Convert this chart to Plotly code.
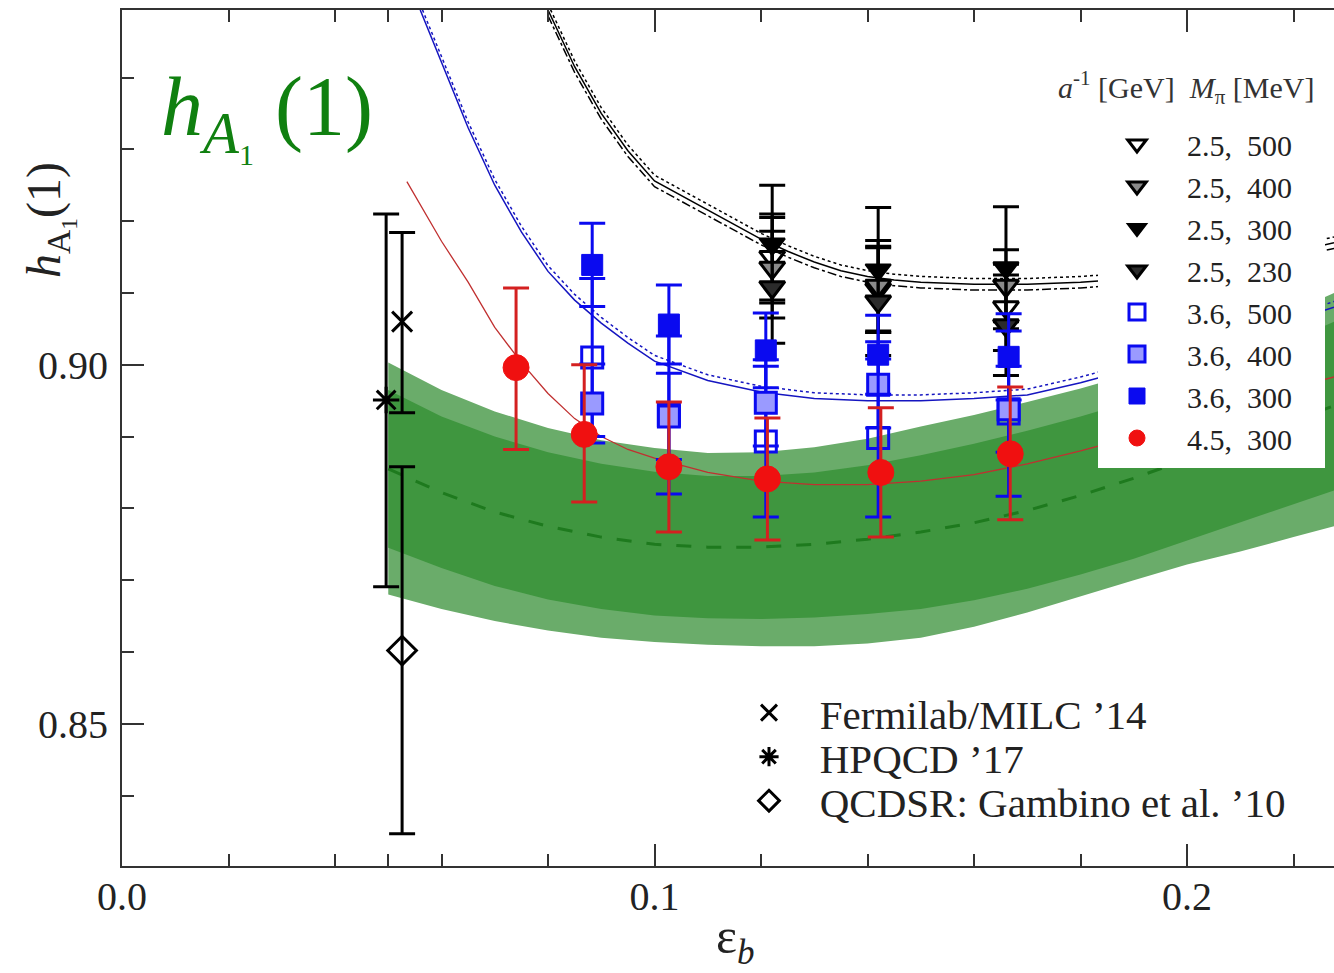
import plotly.graph_objects as go

# ---------------- data ----------------
# green band (chiral/continuum extrapolation)
band_x = [0.050, 0.060, 0.070, 0.080, 0.090, 0.100, 0.110, 0.120, 0.130, 0.140,
          0.150, 0.160, 0.170, 0.180, 0.190, 0.200, 0.210, 0.220, 0.2276]
band_center = [0.8855, 0.8822, 0.8795, 0.8775, 0.8760, 0.8750, 0.8746, 0.8746, 0.8750, 0.8757,
               0.8767, 0.8780, 0.8797, 0.8818, 0.8842, 0.8868, 0.8895, 0.8922, 0.8943]
band_outer_top = [0.9003, 0.8965, 0.8935, 0.8912, 0.8895, 0.8884, 0.8877, 0.8878, 0.8885, 0.8897,
                  0.8914, 0.8930, 0.8948, 0.8967, 0.8988, 0.9012, 0.9040, 0.9075, 0.9100]
band_outer_bot = [0.8680, 0.8660, 0.8643, 0.8630, 0.8620, 0.8614, 0.8610, 0.8608, 0.8608, 0.8612,
                  0.8620, 0.8635, 0.8655, 0.8678, 0.8700, 0.8722, 0.8740, 0.8760, 0.8775]
band_inner_top = [0.8965, 0.8928, 0.8900, 0.8878, 0.8862, 0.8851, 0.8845, 0.8845, 0.8850, 0.8860,
                  0.8874, 0.8890, 0.8908, 0.8928, 0.8950, 0.8975, 0.9003, 0.9035, 0.9060]
band_inner_bot = [0.8745, 0.8717, 0.8692, 0.8673, 0.8660, 0.8651, 0.8647, 0.8646, 0.8648, 0.8653,
                  0.8660, 0.8672, 0.8688, 0.8708, 0.8730, 0.8755, 0.8780, 0.8805, 0.8825]

# fit curves
black_x = [0.0800, 0.0850, 0.0900, 0.0950, 0.1000, 0.1050, 0.1100, 0.1150, 0.1200, 0.1250,
           0.1300, 0.1350, 0.1400, 0.1450, 0.1500, 0.1600, 0.1700, 0.1800, 0.1900, 0.2000,
           0.2100, 0.2200, 0.2276]
black_y = [0.9494, 0.9415, 0.9350, 0.9298, 0.9256, 0.9236, 0.9215, 0.9195, 0.9175, 0.9158,
           0.9143, 0.9131, 0.9123, 0.9118, 0.9115, 0.9112, 0.9112, 0.9115, 0.9120, 0.9130,
           0.9142, 0.9157, 0.9170]
black_hi = [0.9502, 0.9423, 0.9358, 0.9306, 0.9264, 0.9244, 0.9223, 0.9203, 0.9183, 0.9166,
            0.9151, 0.9139, 0.9131, 0.9126, 0.9123, 0.9120, 0.9120, 0.9123, 0.9128, 0.9138,
            0.9150, 0.9165, 0.9178]
black_lo = [0.9486, 0.9407, 0.9342, 0.9290, 0.9248, 0.9228, 0.9207, 0.9187, 0.9167, 0.9150,
            0.9135, 0.9123, 0.9115, 0.9110, 0.9107, 0.9104, 0.9104, 0.9107, 0.9112, 0.9122,
            0.9134, 0.9149, 0.9162]

blue_x = [0.0560, 0.0600, 0.0650, 0.0700, 0.0750, 0.0800, 0.0850, 0.0900, 0.0950, 0.1000,
          0.1100, 0.1200, 0.1300, 0.1400, 0.1500, 0.1600, 0.1700, 0.1800, 0.1900, 0.2000,
          0.2100, 0.2200, 0.2276]
blue_y = [0.9494, 0.9420, 0.9330, 0.9250, 0.9185, 0.9130, 0.9090, 0.9058, 0.9030, 0.9005,
          0.8978, 0.8962, 0.8953, 0.8950, 0.8950, 0.8953, 0.8958, 0.8975, 0.8995, 0.9015,
          0.9038, 0.9062, 0.9080]
blue_hi = [0.9502, 0.9428, 0.9338, 0.9258, 0.9193, 0.9138, 0.9098, 0.9066, 0.9038, 0.9013,
           0.8986, 0.8970, 0.8961, 0.8958, 0.8958, 0.8961, 0.8966, 0.8983, 0.9003, 0.9023,
           0.9046, 0.9070, 0.9088]

red_x = [0.0535, 0.0600, 0.0650, 0.0700, 0.0750, 0.0800, 0.0850, 0.0900, 0.0950, 0.1000,
         0.1100, 0.1200, 0.1300, 0.1400, 0.1500, 0.1600, 0.1700, 0.1800, 0.1900, 0.2000,
         0.2100, 0.2200, 0.2276]
red_y = [0.9255, 0.9172, 0.9115, 0.9052, 0.9003, 0.8960, 0.8925, 0.8900, 0.8882, 0.8870,
         0.8850, 0.8838, 0.8833, 0.8833, 0.8838, 0.8847, 0.8862, 0.8880, 0.8900, 0.8922,
         0.8945, 0.8968, 0.8983]

# lattice data points
tri_x = [0.1221, 0.1420, 0.1660]
tri500_y = [0.9150, 0.9105, 0.9080]
tri500_err = [0.0060, 0.0060, 0.0060]
tri400_y = [0.9135, 0.9110, 0.9110]
tri400_err = [0.0070, 0.0063, 0.0050]
tri300_y = [0.9168, 0.9132, 0.9135]
tri300_err = [0.0082, 0.0087, 0.0085]
tri230_y = [0.9108, 0.9088, 0.9055]
tri230_err = [0.0078, 0.0075, 0.0070]

sq_x = [0.0883, 0.1027, 0.1209, 0.1420, 0.1665]
sq500_y = [0.9010, 0.8930, 0.8893, 0.8898, 0.8932]
sq500_err = [0.0110, 0.0110, 0.0105, 0.0110, 0.0115]
sq400_y = [0.8946, 0.8928, 0.8947, 0.8972, 0.8938]
sq400_err = [0.0055, 0.0060, 0.0060, 0.0060, 0.0060]
sq300_y = [0.9139, 0.9056, 0.9020, 0.9014, 0.9011]
sq300_err = [0.0058, 0.0055, 0.0052, 0.0055, 0.0060]

circ_x = [0.0740, 0.0868, 0.1027, 0.1212, 0.1425, 0.1668]
circ_y = [0.8996, 0.8903, 0.8858, 0.8841, 0.8850, 0.8876]
circ_err_plus = [0.0111, 0.0097, 0.0090, 0.0085, 0.0090, 0.0093]
circ_err_minus = [0.0114, 0.0094, 0.0091, 0.0085, 0.0090, 0.0092]

# other determinations
fnal_x, fnal_y, fnal_up, fnal_dn = [0.0526], [0.9060], [0.0124], [0.0127]
hpqcd_x, hpqcd_y, hpqcd_up, hpqcd_dn = [0.0496], [0.8951], [0.0259], [0.0260]
qcdsr_x, qcdsr_y, qcdsr_up, qcdsr_dn = [0.0526], [0.8602], [0.0256], [0.0255]

NB = "\u00a0"
legend_labels = ["2.5, 500", "2.5, 400", "2.5, 300", "2.5, 230",
                 "3.6, 500", "3.6, 400", "3.6, 300", "4.5, 300"]
ref_labels = ["Fermilab/MILC \u201914", "HPQCD \u201917", "QCDSR: Gambino et al. \u201910"]

x_tickvals = [0.0, 0.1, 0.2]
x_ticktext = ["0.0", "0.1", "0.2"]
y_tickvals = [0.85, 0.90]
y_ticktext = ["0.85", "0.90"]

# ---------------- figure ----------------
SERIF = "Liberation Serif, Times New Roman, serif"
BLUE = "#0a0af0"
RED = "#f01010"
RED_ERR = "#d42020"
TXT = "#222222"

fig = go.Figure()

# green band
fig.add_trace(go.Scatter(x=band_x, y=band_outer_bot, mode="lines", line=dict(width=0),
                         showlegend=False, hoverinfo="skip"))
fig.add_trace(go.Scatter(x=band_x, y=band_outer_top, mode="lines", line=dict(width=0),
                         fill="tonexty", fillcolor="#6aac6a", showlegend=False, hoverinfo="skip"))
fig.add_trace(go.Scatter(x=band_x, y=band_inner_bot, mode="lines", line=dict(width=0),
                         showlegend=False, hoverinfo="skip"))
fig.add_trace(go.Scatter(x=band_x, y=band_inner_top, mode="lines", line=dict(width=0),
                         fill="tonexty", fillcolor="#3f963f", showlegend=False, hoverinfo="skip"))
fig.add_trace(go.Scatter(x=band_x, y=band_center, mode="lines",
                         line=dict(color="#1e7a1e", width=3, dash="longdash"),
                         showlegend=False, hoverinfo="skip"))

# fit curves
fig.add_trace(go.Scatter(x=black_x, y=black_hi, mode="lines", line=dict(color="black", width=1.5, dash="dot"),
                         showlegend=False, hoverinfo="skip"))
fig.add_trace(go.Scatter(x=black_x, y=black_y, mode="lines", line=dict(color="black", width=1.5),
                         showlegend=False, hoverinfo="skip"))
fig.add_trace(go.Scatter(x=black_x, y=black_lo, mode="lines", line=dict(color="black", width=1.5, dash="dashdot"),
                         showlegend=False, hoverinfo="skip"))
fig.add_trace(go.Scatter(x=blue_x, y=blue_hi, mode="lines", line=dict(color="#1515c0", width=1.5, dash="dot"),
                         showlegend=False, hoverinfo="skip"))
fig.add_trace(go.Scatter(x=blue_x, y=blue_y, mode="lines", line=dict(color="#1515c0", width=1.5),
                         showlegend=False, hoverinfo="skip"))
fig.add_trace(go.Scatter(x=red_x, y=red_y, mode="lines", line=dict(color="#c03030", width=1.3),
                         showlegend=False, hoverinfo="skip"))


def err(up, dn, color, thick=3, width=13):
    return dict(type="data", symmetric=False, array=up, arrayminus=dn,
                color=color, thickness=thick, width=width)


def lab(s, lead):
    # non-breaking spaces keep the wide gaps of the original legend
    return NB * lead + s.replace(" ", NB * 2)


# black triangles (a^-1 = 2.5 GeV)
tri_sets = [
    (tri500_y, tri500_err, dict(symbol="triangle-down-open", color="black", line=dict(color="black", width=3))),
    (tri400_y, tri400_err, dict(symbol="triangle-down", color="#8a8a8a", line=dict(color="black", width=3))),
    (tri300_y, tri300_err, dict(symbol="triangle-down", color="black", line=dict(color="black", width=2))),
    (tri230_y, tri230_err, dict(symbol="triangle-down", color="#2b2b2b", line=dict(color="black", width=3))),
]
for i, (yy, ee, mk) in enumerate(tri_sets):
    fig.add_trace(go.Scatter(x=tri_x, y=yy, mode="markers", name=lab(legend_labels[i], 4),
                             marker=dict(size=22, **mk),
                             error_y=err(ee, ee, "black"), legend="legend"))

# blue squares (a^-1 = 3.6 GeV)
sq_sets = [
    (sq500_y, sq500_err, dict(symbol="square-open", color=BLUE, line=dict(color=BLUE, width=3))),
    (sq400_y, sq400_err, dict(symbol="square", color="#9a9aff", line=dict(color=BLUE, width=3))),
    (sq300_y, sq300_err, dict(symbol="square", color=BLUE, line=dict(color=BLUE, width=1))),
]
for i, (yy, ee, mk) in enumerate(sq_sets):
    fig.add_trace(go.Scatter(x=sq_x, y=yy, mode="markers", name=lab(legend_labels[4 + i], 4),
                             marker=dict(size=21, **mk),
                             error_y=err(ee, ee, BLUE), legend="legend"))

# red circles (a^-1 = 4.5 GeV)
fig.add_trace(go.Scatter(x=circ_x, y=circ_y, mode="markers", name=lab(legend_labels[7], 4),
                         marker=dict(symbol="circle", size=26, color=RED, line=dict(color=RED, width=1)),
                         error_y=err(circ_err_plus, circ_err_minus, RED_ERR), legend="legend"))

# other determinations (each in its own legend so the rows sit as in the original)
fig.add_trace(go.Scatter(x=fnal_x, y=fnal_y, mode="markers", name=NB * 3 + ref_labels[0],
                         marker=dict(symbol="x-thin-open", size=20, color="black", line=dict(color="black", width=3)),
                         error_y=err(fnal_up, fnal_dn, "black", 3, 13), legend="legend2"))
fig.add_trace(go.Scatter(x=hpqcd_x, y=hpqcd_y, mode="markers", name=NB * 3 + ref_labels[1],
                         marker=dict(symbol="asterisk-open", size=22, color="black", line=dict(color="black", width=3)),
                         error_y=err(hpqcd_up, hpqcd_dn, "black", 3, 13), legend="legend3"))
fig.add_trace(go.Scatter(x=qcdsr_x, y=qcdsr_y, mode="markers", name=NB * 3 + ref_labels[2],
                         marker=dict(symbol="diamond-open", size=22, color="black", line=dict(color="black", width=3)),
                         error_y=err(qcdsr_up, qcdsr_dn, "black", 3, 13), legend="legend4"))

tick_font = dict(family=SERIF, size=40, color=TXT)

# pixel -> paper helpers for layout placement (plot area 122..1334 x 10..866)
def px(xp):
    return (xp - 122) / 1212.0


def py(yp):
    return (866 - yp) / 856.0


small_leg = dict(xanchor="left", yanchor="middle", bgcolor="rgba(0,0,0,0)", borderwidth=0,
                 font=dict(family=SERIF, size=41, color=TXT), itemsizing="trace")

fig.update_layout(
    width=1334, height=973,
    margin=dict(l=122, r=0, t=10, b=107),
    paper_bgcolor="white", plot_bgcolor="white",
    xaxis=dict(range=[0, 0.2276], tickvals=x_tickvals, ticktext=x_ticktext,
               showline=True, linecolor="#333", linewidth=2, mirror="allticks",
               ticks="inside", tickcolor="#333", tickwidth=2, ticklen=22,
               showgrid=False, zeroline=False, tickfont=tick_font, ticklabelstandoff=-6,
               minor=dict(tickvals=[0.02, 0.04, 0.05, 0.06, 0.08, 0.12, 0.14, 0.16, 0.18, 0.22],
                          ticks="inside", ticklen=12, tickwidth=2, tickcolor="#333")),
    yaxis=dict(range=[0.8302, 0.9494], tickvals=y_tickvals, ticktext=y_ticktext,
               showline=True, linecolor="#333", linewidth=2, mirror=False,
               ticks="inside", tickcolor="#333", tickwidth=2, ticklen=22,
               showgrid=False, zeroline=False, tickfont=tick_font, ticklabelstandoff=4,
               minor=dict(tickvals=[0.84, 0.86, 0.87, 0.88, 0.89, 0.91, 0.92, 0.93, 0.94],
                          ticks="inside", ticklen=12, tickwidth=2, tickcolor="#333")),
    legend=dict(
        x=px(1117), y=py(118), xanchor="left", yanchor="top",
        bgcolor="rgba(0,0,0,0)", borderwidth=0, traceorder="normal",
        font=dict(family=SERIF, size=30, color=TXT),
        itemsizing="trace", tracegroupgap=0,
    ),
    legend2=dict(x=px(749), y=py(713), **small_leg),
    legend3=dict(x=px(749), y=py(757), **small_leg),
    legend4=dict(x=px(749), y=py(801), **small_leg),
    showlegend=True,
)

# white box behind the upper-right legend
fig.add_shape(type="rect", xref="paper", yref="paper",
              x0=px(1098), x1=px(1325), y0=py(468), y1=py(62),
              fillcolor="white", line=dict(width=0), layer="above")

# legend header
fig.add_annotation(xref="paper", yref="paper", x=px(1316), y=py(88), xanchor="right", yanchor="middle",
                   text="<i>a</i><sup>-1</sup> [GeV]" + NB * 2 + "<i>M</i><sub>\u03c0</sub> [MeV]",
                   showarrow=False, font=dict(family=SERIF, size=30, color="#333"))

# annotations: big green label, axis titles
fig.add_annotation(xref="paper", yref="paper", x=px(159), y=py(58), xanchor="left", yanchor="top",
                   text="<i>h</i><sub><i>A</i><sub><span style='font-size:30px'>1</span></sub></sub>" + NB + "(1)",
                   showarrow=False, font=dict(family=SERIF, size=84, color="#108010"))
fig.add_annotation(xref="paper", yref="paper", x=px(49), y=py(220), xanchor="center", yanchor="middle",
                   text="<i>h</i><sub>A<sub>1</sub></sub>(1)", textangle=-90, showarrow=False,
                   font=dict(family=SERIF, size=48, color=TXT))
fig.add_annotation(xref="paper", yref="paper", x=px(735), y=py(940), xanchor="center", yanchor="middle",
                   text="\u03b5<sub><i>b</i></sub>", showarrow=False,
                   font=dict(family=SERIF, size=50, color=TXT))

fig.write_html("out.html")
